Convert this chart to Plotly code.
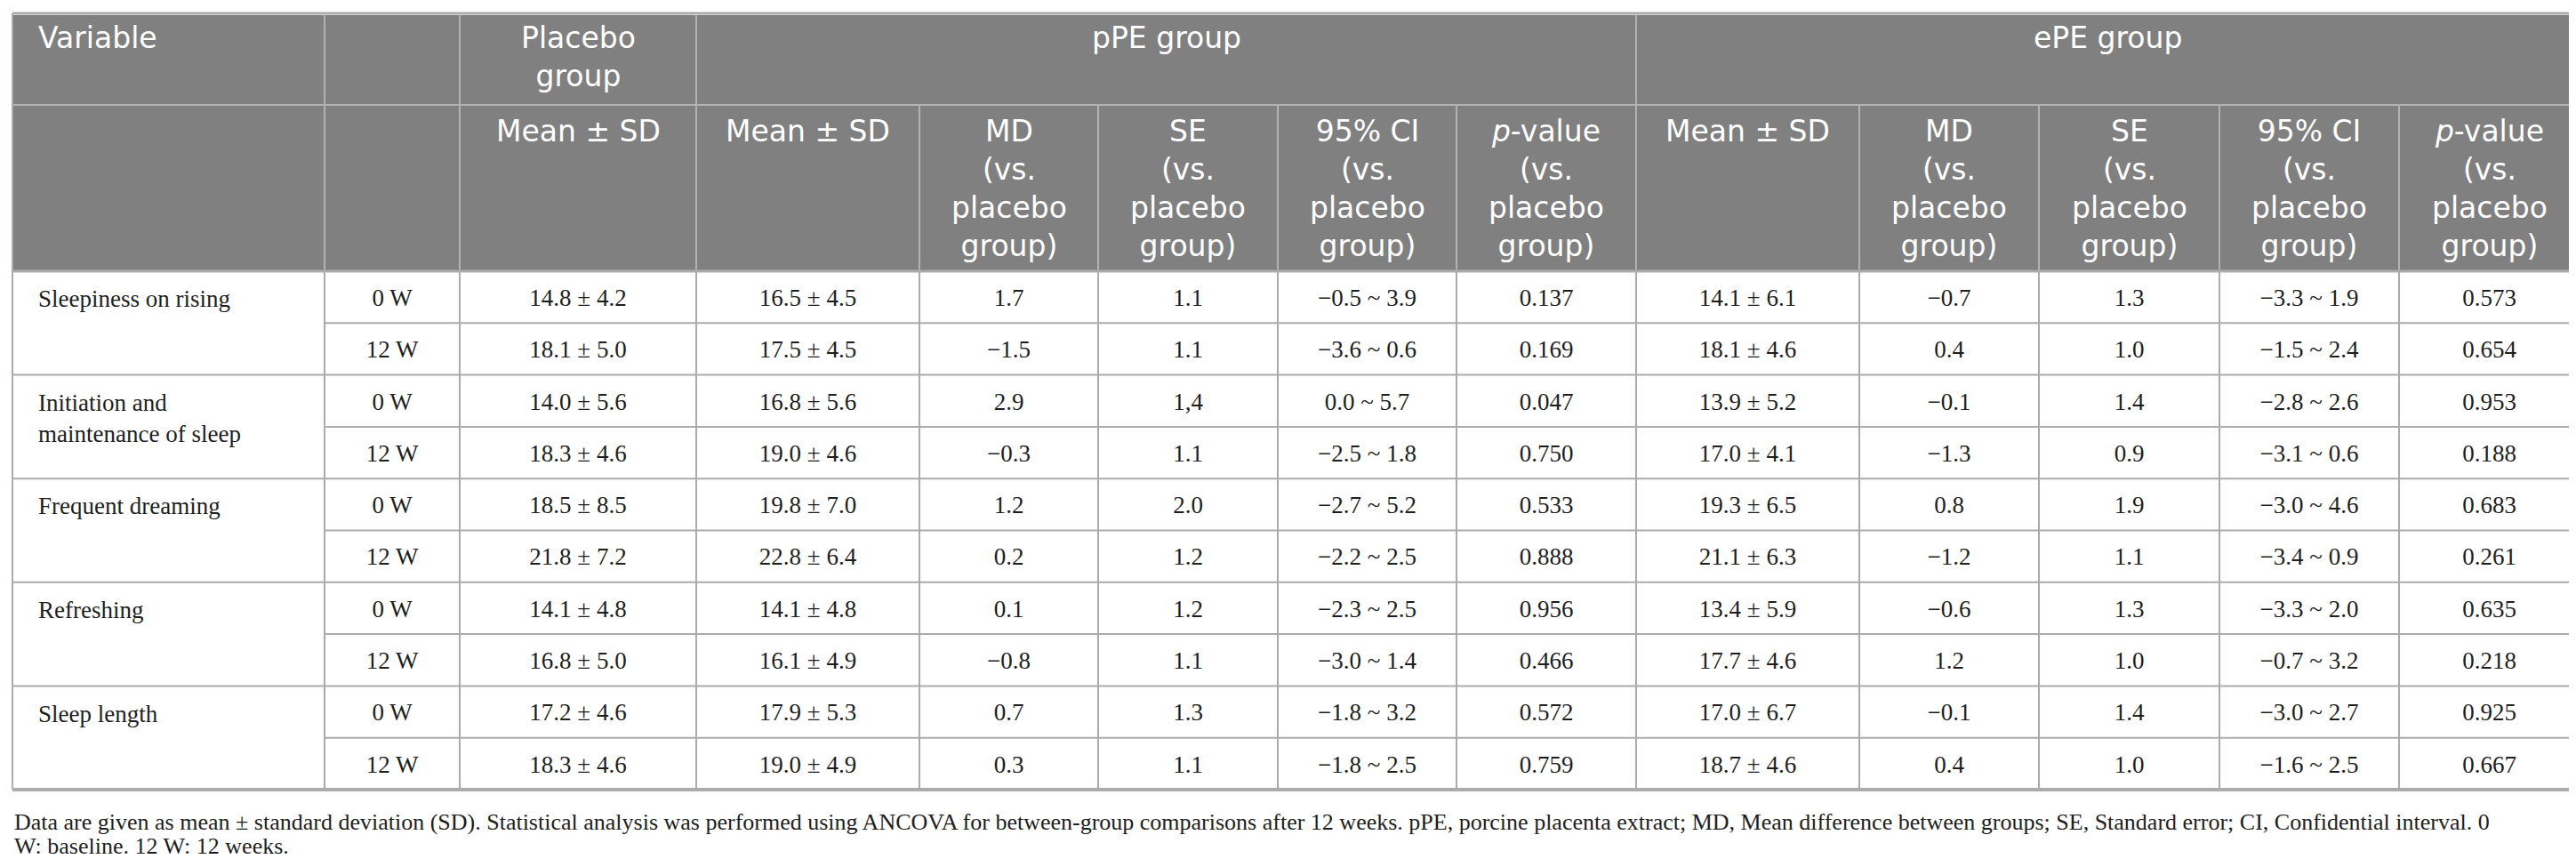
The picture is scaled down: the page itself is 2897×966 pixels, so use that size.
import plotly.graph_objects as go

# --- data -------------------------------------------------------------
variables = ["Sleepiness on rising", "Initiation and<br>maintenance of sleep",
             "Frequent dreaming", "Refreshing", "Sleep length"]
timepoints = ["0 W", "12 W"]

placebo_mean_sd = ["14.8 ± 4.2", "18.1 ± 5.0", "14.0 ± 5.6", "18.3 ± 4.6", "18.5 ± 8.5",
                   "21.8 ± 7.2", "14.1 ± 4.8", "16.8 ± 5.0", "17.2 ± 4.6", "18.3 ± 4.6"]
ppe_mean_sd = ["16.5 ± 4.5", "17.5 ± 4.5", "16.8 ± 5.6", "19.0 ± 4.6", "19.8 ± 7.0",
               "22.8 ± 6.4", "14.1 ± 4.8", "16.1 ± 4.9", "17.9 ± 5.3", "19.0 ± 4.9"]
ppe_md = ["1.7", "−1.5", "2.9", "−0.3", "1.2", "0.2", "0.1", "−0.8", "0.7", "0.3"]
ppe_se = ["1.1", "1.1", "1,4", "1.1", "2.0", "1.2", "1.2", "1.1", "1.3", "1.1"]
ppe_ci = ["−0.5 ~ 3.9", "−3.6 ~ 0.6", "0.0 ~ 5.7", "−2.5 ~ 1.8", "−2.7 ~ 5.2",
          "−2.2 ~ 2.5", "−2.3 ~ 2.5", "−3.0 ~ 1.4", "−1.8 ~ 3.2", "−1.8 ~ 2.5"]
ppe_p = ["0.137", "0.169", "0.047", "0.750", "0.533", "0.888", "0.956", "0.466", "0.572", "0.759"]
epe_mean_sd = ["14.1 ± 6.1", "18.1 ± 4.6", "13.9 ± 5.2", "17.0 ± 4.1", "19.3 ± 6.5",
               "21.1 ± 6.3", "13.4 ± 5.9", "17.7 ± 4.6", "17.0 ± 6.7", "18.7 ± 4.6"]
epe_md = ["−0.7", "0.4", "−0.1", "−1.3", "0.8", "−1.2", "−0.6", "1.2", "−0.1", "0.4"]
epe_se = ["1.3", "1.0", "1.4", "0.9", "1.9", "1.1", "1.3", "1.0", "1.4", "1.0"]
epe_ci = ["−3.3 ~ 1.9", "−1.5 ~ 2.4", "−2.8 ~ 2.6", "−3.1 ~ 0.6", "−3.0 ~ 4.6",
          "−3.4 ~ 0.9", "−3.3 ~ 2.0", "−0.7 ~ 3.2", "−3.0 ~ 2.7", "−1.6 ~ 2.5"]
epe_p = ["0.573", "0.654", "0.953", "0.188", "0.683", "0.261", "0.635", "0.218", "0.925", "0.667"]

group_headers = ["Variable", "", "Placebo<br>group", "pPE group", "ePE group"]
vs = "<br>(vs.<br>placebo<br>group)"
sub_headers = ["", "", "Mean ± SD",
               "Mean ± SD", "MD" + vs, "SE" + vs, "95% CI" + vs, "<i>p</i>-value" + vs,
               "Mean ± SD", "MD" + vs, "SE" + vs, "95% CI" + vs, "<i>p</i>-value" + vs]

footnote = ["Data are given as mean ± standard deviation (SD). Statistical analysis was performed "
            "using ANCOVA for between-group comparisons after 12 weeks. pPE, porcine placenta "
            "extract; MD, Mean difference between groups; SE, Standard error; CI, Confidential "
            "interval. 0",
            "W: baseline. 12 W: 12 weeks."]

# --- layout of the table (pixels) ------------------------------------
W, H = 2897, 966
col_edges = [6, 357, 509, 775, 1026, 1227, 1429, 1630, 1832, 2083, 2285, 2488, 2690, 2893]
group_spans = [(0, 1), (1, 2), (2, 3), (3, 8), (8, 13)]
h1_top, h1_bot, h2_bot = 9, 110, 297
row_h = 58.3
n_rows = 10
body_bot = h2_bot + n_rows * row_h

HEAD_BG = "#808080"
HEAD_LINE = "#b2b2b2"
BODY_LINE = "#ababab"
TEXT = "#1e1e1e"
SANS = "DejaVu Sans"
SERIF = "Liberation Serif"

fig = go.Figure()
shapes = []
annotations = []

# header background
shapes.append(dict(type="rect", x0=col_edges[0], x1=col_edges[-1], y0=h1_top, y1=h2_bot,
                   fillcolor=HEAD_BG, line_width=0, layer="below"))

def line(x0, y0, x1, y1, color, width=2):
    shapes.append(dict(type="line", x0=x0, y0=y0, x1=x1, y1=y1,
                       line=dict(color=color, width=width)))

# header grid
line(col_edges[0], h1_bot, col_edges[-1], h1_bot, HEAD_LINE)
for a, b in group_spans[1:]:
    line(col_edges[a], h1_top, col_edges[a], h1_bot, HEAD_LINE)
for x in col_edges[1:-1]:
    line(x, h1_bot, x, h2_bot, HEAD_LINE)

# header text
head_font = dict(family=SANS, size=33, color="white")
for (a, b), txt in zip(group_spans, group_headers):
    if not txt:
        continue
    if a == 0:
        annotations.append(dict(x=col_edges[0] + 27, y=h1_top + 4, text=txt, xanchor="left",
                                yanchor="top", align="left", showarrow=False, font=head_font))
    else:
        annotations.append(dict(x=(col_edges[a] + col_edges[b]) / 2, y=h1_top + 4, text=txt,
                                xanchor="center", yanchor="top", align="center",
                                showarrow=False, font=head_font))
for i, txt in enumerate(sub_headers):
    if not txt:
        continue
    annotations.append(dict(x=(col_edges[i] + col_edges[i + 1]) / 2, y=h1_bot + 8, text=txt,
                            xanchor="center", yanchor="top", align="center", showarrow=False,
                            font=head_font))

# body grid
for r in range(1, n_rows):
    y = h2_bot + r * row_h
    x_start = col_edges[0] if r % 2 == 0 else col_edges[1]
    line(x_start, y, col_edges[-1], y, BODY_LINE)
for x in col_edges[1:-1]:
    line(x, h2_bot, x, body_bot, BODY_LINE)
line(col_edges[0], h2_bot, col_edges[-1], h2_bot, BODY_LINE, 3)
line(col_edges[0], body_bot, col_edges[-1], body_bot, BODY_LINE, 4)
# outer border
line(col_edges[0], h1_top - 2, col_edges[-1], h1_top - 2, BODY_LINE, 3)
line(col_edges[0], h1_top - 2, col_edges[0], body_bot, BODY_LINE, 2)
line(col_edges[-1], h1_top - 2, col_edges[-1], body_bot, BODY_LINE, 2)

# body text
row_centers = [h2_bot + (r + 0.5) * row_h + 3 for r in range(n_rows)]
columns = [[tp for _ in variables for tp in timepoints],
           placebo_mean_sd, ppe_mean_sd, ppe_md, ppe_se, ppe_ci, ppe_p,
           epe_mean_sd, epe_md, epe_se, epe_ci, epe_p]
for c, vals in enumerate(columns, start=1):
    xc = (col_edges[c] + col_edges[c + 1]) / 2
    fig.add_trace(go.Scatter(x=[xc] * len(vals), y=row_centers, text=vals, mode="text",
                             textposition="middle center", hoverinfo="skip",
                             textfont=dict(family=SERIF, size=27, color=TEXT)))

for k, name in enumerate(variables):
    annotations.append(dict(x=col_edges[0] + 27, y=row_centers[2 * k] - 18, text=name,
                            xanchor="left", yanchor="top", align="left", showarrow=False,
                            font=dict(family=SERIF, size=27, color=TEXT)))

# footnote
for i, txt in enumerate(footnote):
    annotations.append(dict(x=6, y=body_bot + 36 + i * 27, text=txt, xanchor="left",
                            yanchor="middle", align="left", showarrow=False,
                            font=dict(family=SERIF, size=26, color=TEXT)))

fig.update_layout(
    width=W, height=H,
    margin=dict(l=0, r=0, t=0, b=0),
    paper_bgcolor="white", plot_bgcolor="white",
    showlegend=False,
    xaxis=dict(range=[0, W], visible=False, fixedrange=True),
    yaxis=dict(range=[H, 0], visible=False, fixedrange=True),
    shapes=shapes,
    annotations=annotations,
)

fig.write_html("out.html")
